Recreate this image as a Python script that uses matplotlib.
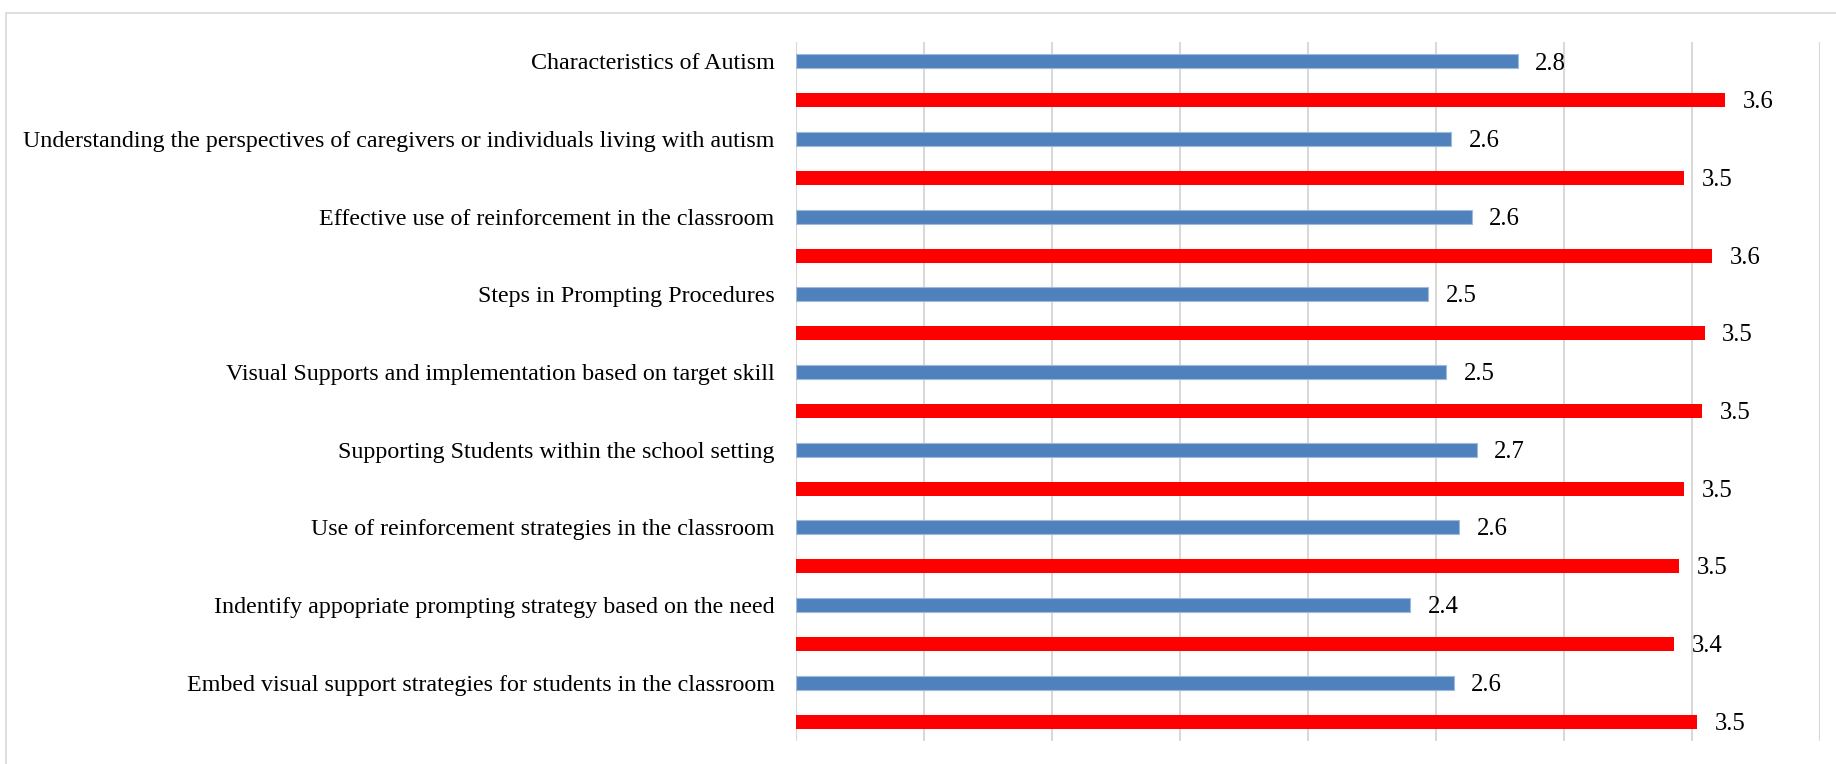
import matplotlib.pyplot as plt
from matplotlib.patches import Rectangle

# topics, top to bottom
topics = [
    "Characteristics of Autism",
    "Understanding the perspectives of caregivers or individuals living with autism",
    "Effective use of reinforcement in the classroom",
    "Steps in Prompting Procedures",
    "Visual Supports and implementation based on target skill",
    "Supporting Students within the school setting",
    "Use of reinforcement strategies in the classroom",
    "Indentify appopriate prompting strategy based on the need",
    "Embed visual support strategies for students in the classroom",
]
# blue bars (first bar of each pair)
blue_vals = [2.82, 2.56, 2.64, 2.47, 2.54, 2.66, 2.59, 2.40, 2.57]
# red bars (second bar of each pair)
red_vals = [3.63, 3.47, 3.58, 3.55, 3.54, 3.47, 3.45, 3.43, 3.52]

BLUE = "#4F81BD"
RED = "#FF0000"

fig = plt.figure(figsize=(18.36, 7.64), dpi=100)
ax = fig.add_axes([796 / 1836, 1 - 741 / 764, 1024 / 1836, 699 / 764])

# light frame around the chart area
fig.patches.append(Rectangle((6 / 1836, -0.05), 1.2, 1 - 13 / 764 + 0.05,
                             transform=fig.transFigure, fill=False,
                             edgecolor="#D9D9D9", linewidth=1.2))

pos_blue = [2 * i for i in range(len(topics))]
pos_red = [2 * i + 1 for i in range(len(topics))]
h = 0.36

bb = ax.barh(pos_blue, blue_vals, height=h, color=BLUE, edgecolor="#9DB9DC",
             linewidth=0.8, zorder=3)
rb = ax.barh(pos_red, red_vals, height=h, color=RED, linewidth=0, zorder=3)

for bars, vals in [(bb, blue_vals), (rb, red_vals)]:
    for b, v in zip(bars, vals):
        ax.annotate(f"{v:.1f}", (v, b.get_y() + b.get_height() / 2),
                    xytext=(12.5, -1.5), textcoords="offset points",
                    ha="left", va="center", fontsize=17.8,
                    family="Liberation Serif", color="black")

ax.set_xlim(0, 4)
ax.set_ylim(17.5, -0.5)
ax.set_xticks([0.5 * k for k in range(9)])
ax.xaxis.grid(True, color="#D9D9D9", linewidth=1.5, zorder=0)
ax.tick_params(axis="x", length=0, labelbottom=False)
ax.set_yticks(pos_blue)
ax.set_yticklabels(topics, family="Liberation Serif", fontsize=17.3)
ax.tick_params(axis="y", length=0, pad=15.5)
for s in ax.spines.values():
    s.set_visible(False)

fig.savefig("out.png", dpi=100)
